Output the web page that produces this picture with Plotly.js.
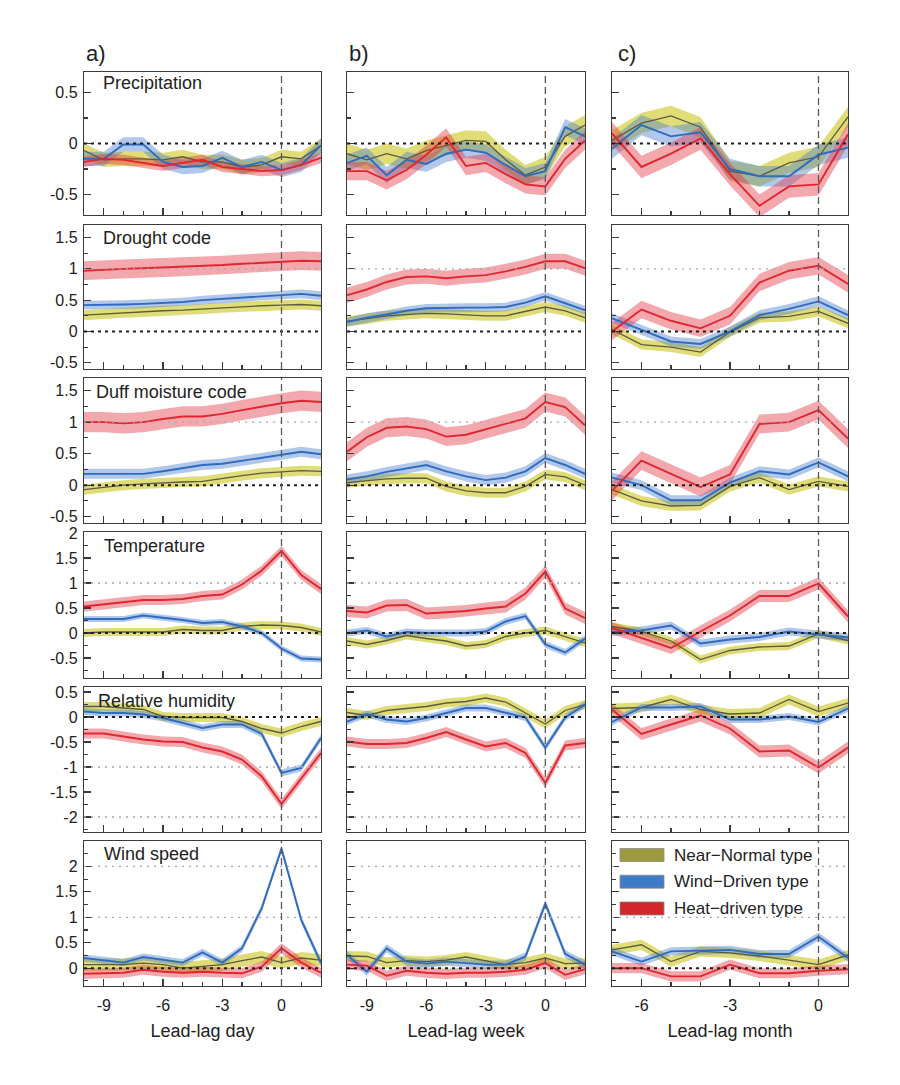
<!DOCTYPE html>
<html><head><meta charset="utf-8">
<script src="https://cdn.plot.ly/plotly-3.0.1.min.js"></script>
<style>html,body{margin:0;padding:0;background:#ffffff;}#chart{width:900px;height:1085px;}</style>
</head><body><div id="chart"></div>
<script>
// ---------- x values ----------
const dayX   = [-10,-9,-8,-7,-6,-5,-4,-3,-2,-1,0,1,2];
const weekX  = [-10,-9,-8,-7,-6,-5,-4,-3,-2,-1,0,1,2];
const monthX = [-7,-6,-5,-4,-3,-2,-1,0,1];

// ---------- Precipitation ----------
const precip_day_near  = [-0.07,-0.16,-0.15,-0.15,-0.16,-0.13,-0.18,-0.18,-0.23,-0.21,-0.13,-0.15,-0.02];
const precip_day_wind  = [-0.15,-0.15,-0.01,-0.01,-0.18,-0.23,-0.22,-0.14,-0.23,-0.18,-0.26,-0.21,-0.02];
const precip_day_heat  = [-0.18,-0.15,-0.16,-0.19,-0.22,-0.19,-0.16,-0.23,-0.25,-0.27,-0.26,-0.21,-0.14];
const precip_day_band  = [0.07,0.07,0.05];
const precip_week_near = [-0.1,-0.16,-0.1,-0.15,-0.07,-0.02,0.03,0.02,-0.16,-0.31,-0.23,0.07,0.18];
const precip_week_wind = [-0.19,-0.12,-0.31,-0.16,-0.2,-0.1,-0.06,-0.09,-0.21,-0.32,-0.27,0.16,0.07];
const precip_week_heat = [-0.27,-0.27,-0.36,-0.26,-0.11,0.06,-0.22,-0.19,-0.3,-0.4,-0.42,-0.15,0.03];
const precip_week_band = [0.1,0.08,0.09];
const precip_month_near = [0.03,0.2,0.27,0.16,-0.27,-0.32,-0.19,-0.13,0.26];
const precip_month_wind = [-0.05,0.18,0.07,0.11,-0.25,-0.32,-0.32,-0.11,-0.04];
const precip_month_heat = [0.1,-0.23,-0.1,0.05,-0.3,-0.61,-0.42,-0.4,0.09];
const precip_month_band = [0.1,0.1,0.11];

// ---------- Drought code ----------
const drought_day_near  = [0.26,0.28,0.3,0.31,0.33,0.34,0.36,0.38,0.39,0.41,0.42,0.43,0.41];
const drought_day_wind  = [0.42,0.42,0.43,0.44,0.45,0.47,0.5,0.52,0.54,0.57,0.59,0.6,0.57];
const drought_day_heat  = [0.97,0.99,1.0,1.01,1.02,1.03,1.05,1.06,1.08,1.1,1.12,1.13,1.12];
const drought_day_band  = [0.08,0.07,0.15];
const drought_week_near = [0.16,0.2,0.25,0.27,0.29,0.28,0.26,0.25,0.25,0.32,0.39,0.33,0.22];
const drought_week_wind = [0.15,0.22,0.27,0.33,0.37,0.38,0.38,0.38,0.39,0.46,0.56,0.45,0.34];
const drought_week_heat = [0.58,0.67,0.79,0.87,0.88,0.85,0.88,0.9,0.96,1.03,1.12,1.12,1.01];
const drought_week_band = [0.08,0.07,0.12];
const drought_month_near = [0.03,-0.21,-0.25,-0.33,-0.01,0.22,0.24,0.32,0.13];
const drought_month_wind = [0.21,0.03,-0.16,-0.2,0.0,0.26,0.36,0.48,0.26];
const drought_month_heat = [0.0,0.35,0.17,0.05,0.25,0.78,0.97,1.05,0.76];
const drought_month_band = [0.08,0.08,0.14];

// ---------- Duff moisture code ----------
const duff_day_near  = [-0.07,-0.03,0.0,0.02,0.04,0.05,0.06,0.11,0.15,0.19,0.21,0.23,0.22];
const duff_day_wind  = [0.18,0.18,0.18,0.18,0.22,0.27,0.32,0.34,0.39,0.43,0.48,0.53,0.49];
const duff_day_heat  = [1.0,1.0,0.98,1.0,1.05,1.09,1.09,1.13,1.19,1.25,1.3,1.34,1.32];
const duff_day_band  = [0.08,0.08,0.16];
const duff_week_near = [0.04,0.07,0.1,0.11,0.11,-0.02,-0.09,-0.12,-0.12,-0.02,0.17,0.13,0.0];
const duff_week_wind = [0.09,0.14,0.21,0.26,0.32,0.22,0.14,0.08,0.12,0.22,0.43,0.32,0.18];
const duff_week_heat = [0.53,0.76,0.91,0.93,0.89,0.77,0.8,0.89,0.98,1.06,1.32,1.24,0.95];
const duff_week_band = [0.08,0.08,0.15];
const duff_month_near = [-0.07,-0.25,-0.33,-0.32,-0.02,0.12,-0.07,0.06,-0.02];
const duff_month_wind = [0.12,0.0,-0.24,-0.24,0.04,0.22,0.17,0.36,0.14];
const duff_month_heat = [-0.09,0.39,0.18,-0.03,0.17,0.97,1.0,1.19,0.74];
const duff_month_band = [0.08,0.08,0.15];

// ---------- Temperature ----------
const temp_day_near  = [0.0,0.02,0.02,0.02,0.02,0.07,0.05,0.05,0.13,0.16,0.15,0.11,0.02];
const temp_day_wind  = [0.28,0.28,0.28,0.35,0.31,0.26,0.2,0.22,0.13,0.0,-0.31,-0.51,-0.53];
const temp_day_heat  = [0.53,0.57,0.61,0.66,0.66,0.68,0.74,0.77,0.97,1.25,1.64,1.16,0.88];
const temp_day_band  = [0.08,0.06,0.1];
const temp_week_near = [-0.16,-0.23,-0.15,-0.05,-0.11,-0.16,-0.26,-0.22,-0.07,0.0,0.05,-0.07,-0.2];
const temp_week_wind = [0.0,0.05,-0.07,0.02,0.0,0.0,0.0,0.03,0.23,0.34,-0.23,-0.39,-0.11];
const temp_week_heat = [0.44,0.41,0.55,0.56,0.39,0.41,0.44,0.49,0.53,0.79,1.23,0.49,0.3];
const temp_week_band = [0.08,0.07,0.12];
const temp_month_near = [0.13,0.03,-0.16,-0.53,-0.35,-0.28,-0.26,-0.02,-0.15];
const temp_month_wind = [0.02,0.05,0.15,-0.21,-0.13,-0.08,0.03,-0.03,-0.09];
const temp_month_heat = [0.1,-0.1,-0.3,0.03,0.35,0.74,0.74,0.99,0.33];
const temp_month_band = [0.08,0.08,0.12];

// ---------- Relative humidity ----------
const rh_day_near  = [0.21,0.21,0.18,0.15,0.01,-0.01,-0.01,-0.01,-0.09,-0.23,-0.32,-0.19,-0.09];
const rh_day_wind  = [0.11,0.08,0.08,0.05,-0.02,-0.12,-0.22,-0.15,-0.15,-0.34,-1.12,-1.02,-0.42];
const rh_day_heat  = [-0.33,-0.33,-0.39,-0.45,-0.49,-0.5,-0.61,-0.69,-0.85,-1.19,-1.74,-1.23,-0.72];
const rh_day_band  = [0.09,0.07,0.1];
const rh_week_near = [0.09,0.03,0.13,0.17,0.21,0.28,0.31,0.38,0.3,0.08,-0.14,0.13,0.25];
const rh_week_wind = [-0.09,0.06,-0.05,-0.09,-0.02,0.08,0.18,0.18,0.08,-0.01,-0.61,-0.01,0.25];
const rh_week_heat = [-0.49,-0.54,-0.54,-0.52,-0.42,-0.3,-0.45,-0.59,-0.52,-0.72,-1.32,-0.57,-0.52];
const rh_week_band = [0.09,0.07,0.1];
const rh_month_near = [0.17,0.19,0.35,0.15,0.06,0.08,0.35,0.11,0.28];
const rh_month_wind = [-0.1,0.19,0.19,0.21,-0.05,-0.05,0.01,-0.1,0.17];
const rh_month_heat = [0.15,-0.34,-0.15,0.03,-0.23,-0.69,-0.67,-1.01,-0.61];
const rh_month_band = [0.1,0.07,0.12];

// ---------- Wind speed ----------
const wind_day_near  = [0.07,0.07,0.07,0.1,0.07,0.0,0.03,0.07,0.15,0.22,0.11,0.2,0.16];
const wind_day_wind  = [0.2,0.15,0.11,0.22,0.16,0.11,0.31,0.11,0.39,1.18,2.35,0.95,0.1];
const wind_day_heat  = [-0.11,-0.1,-0.09,-0.03,-0.07,-0.09,-0.07,-0.09,-0.1,0.03,0.39,0.11,-0.09];
const wind_day_band  = [0.12,0.07,0.1];
const wind_week_near = [0.24,0.23,0.11,0.15,0.13,0.16,0.22,0.15,0.07,0.11,0.2,0.09,0.1];
const wind_week_wind = [0.26,-0.07,0.39,0.13,0.09,0.13,0.1,0.07,0.07,0.23,1.27,0.28,0.07];
const wind_week_heat = [0.07,0.05,-0.15,-0.05,-0.09,-0.11,-0.09,-0.09,-0.07,-0.03,0.1,-0.13,-0.02];
const wind_week_band = [0.1,0.08,0.1];
const wind_month_near = [0.36,0.46,0.13,0.33,0.3,0.24,0.16,0.07,0.26];
const wind_month_wind = [0.33,0.13,0.33,0.35,0.36,0.28,0.28,0.62,0.2];
const wind_month_heat = [0.0,0.0,-0.16,-0.16,0.07,-0.1,-0.1,-0.05,-0.02];
const wind_month_band = [0.1,0.08,0.1];

// ---------- labels ----------
const seriesNames = ['Near\u2212Normal type','Wind\u2212Driven type','Heat\u2212driven type'];
const rowNames = ['Precipitation','Drought code','Duff moisture code','Temperature','Relative humidity','Wind speed'];
const panelLetters = ['a)','b)','c)'];
const xTitles = ['Lead-lag day','Lead-lag week','Lead-lag month'];
const xTickDayWeek = [-9,-6,-3,0];
const xTickMonth = [-6,-3,0];
const yTicksPrecip = [-0.5,0,0.5];
const yTicksCode = [-0.5,0,0.5,1,1.5];
const yTicksTemp = [-0.5,0,0.5,1,1.5,2];
const yTicksRH = [-2,-1.5,-1,-0.5,0,0.5];
const yTicksWind = [0,0.5,1,1.5,2];

// ---------- styling ----------
const W = 900, H = 1085;
const FONT = 'Liberation Sans, Arial, Helvetica, sans-serif';
const lineColors = ['#5b5b3e','#2f6bbf','#e1262f'];
const bandColors = ['rgba(204,198,30,0.6)','rgba(70,125,205,0.42)','rgba(226,48,62,0.42)'];
const swatchColors = ['#9c9a3c','#3e7bc8','#d3262b'];
const lineWidths = [1.3,1.9,1.9];
const colPx = [[84,321],[347,585],[612,848]];
const rowPx = [[72,215],[225,369],[378,523],[532,678],[687,832],[841,986]];

const rows = [
  {range:[-0.7,0.7], ticks:yTicksPrecip, grid:[], data:[
    [precip_day_near,precip_day_wind,precip_day_heat,precip_day_band],
    [precip_week_near,precip_week_wind,precip_week_heat,precip_week_band],
    [precip_month_near,precip_month_wind,precip_month_heat,precip_month_band]]},
  {range:[-0.6,1.7], ticks:yTicksCode, grid:[1], data:[
    [drought_day_near,drought_day_wind,drought_day_heat,drought_day_band],
    [drought_week_near,drought_week_wind,drought_week_heat,drought_week_band],
    [drought_month_near,drought_month_wind,drought_month_heat,drought_month_band]]},
  {range:[-0.6,1.7], ticks:yTicksCode, grid:[1], data:[
    [duff_day_near,duff_day_wind,duff_day_heat,duff_day_band],
    [duff_week_near,duff_week_wind,duff_week_heat,duff_week_band],
    [duff_month_near,duff_month_wind,duff_month_heat,duff_month_band]]},
  {range:[-0.9,2.02], ticks:yTicksTemp, grid:[1], data:[
    [temp_day_near,temp_day_wind,temp_day_heat,temp_day_band],
    [temp_week_near,temp_week_wind,temp_week_heat,temp_week_band],
    [temp_month_near,temp_month_wind,temp_month_heat,temp_month_band]]},
  {range:[-2.3,0.6], ticks:yTicksRH, grid:[-1,-2], data:[
    [rh_day_near,rh_day_wind,rh_day_heat,rh_day_band],
    [rh_week_near,rh_week_wind,rh_week_heat,rh_week_band],
    [rh_month_near,rh_month_wind,rh_month_heat,rh_month_band]]},
  {range:[-0.35,2.5], ticks:yTicksWind, grid:[1,2], data:[
    [wind_day_near,wind_day_wind,wind_day_heat,wind_day_band],
    [wind_week_near,wind_week_wind,wind_week_heat,wind_week_band],
    [wind_month_near,wind_month_wind,wind_month_heat,wind_month_band]]}
];

const traces = [];
const shapes = [];
const annotations = [];
const layout = {
  width: W, height: H,
  margin: {l:0, r:0, t:0, b:0},
  paper_bgcolor: 'rgba(0,0,0,0)',
  plot_bgcolor: 'rgba(0,0,0,0)',
  showlegend: false,
  font: {family: FONT, color: '#222'},
  shapes: shapes,
  annotations: annotations
};

const axisColor = '#3a3a3a';
rows.forEach((row, r) => {
  [0,1,2].forEach(c => {
    const k = r*3 + c + 1;
    const xid = k === 1 ? 'x' : 'x' + k;
    const yid = k === 1 ? 'y' : 'y' + k;
    const xs = c === 0 ? dayX : (c === 1 ? weekX : monthX);
    const xr = c === 2 ? [-7, 1] : [-10, 2];
    const xt = c === 2 ? xTickMonth : xTickDayWeek;
    const d = row.data[c];
    const band = d[3];
    for (let s = 0; s < 3; s++) {
      const up = d[s].map(v => v + band[s]);
      const lo = d[s].map(v => v - band[s]);
      traces.push({
        type:'scatter', mode:'lines', xaxis:xid, yaxis:yid,
        x: xs.concat(xs.slice().reverse()),
        y: up.concat(lo.slice().reverse()),
        fill:'toself', fillcolor: bandColors[s], line:{width:0},
        hoverinfo:'skip', name: seriesNames[s] + ' range', showlegend:false
      });
    }
    for (let s = 0; s < 3; s++) {
      traces.push({
        type:'scatter', mode:'lines', xaxis:xid, yaxis:yid,
        x: xs, y: d[s], name: seriesNames[s],
        line:{color: lineColors[s], width: lineWidths[s]},
        showlegend:false
      });
    }
    const cx = colPx[c], ry = rowPx[r];
    layout['xaxis' + (k === 1 ? '' : k)] = {
      domain:[cx[0]/W, cx[1]/W], range: xr, anchor: yid,
      showline:true, mirror:true, linecolor:axisColor, linewidth:1.2,
      showgrid:false, zeroline:false, fixedrange:true,
      ticks:'inside', ticklen:7, tickwidth:1.2, tickcolor:axisColor,
      tickmode:'array', tickvals: xt, ticktext: xt.map(v => String(v)),
      showticklabels: r === 5, ticklabelstandoff: 5,
      tickfont:{size:16, color:'#222', family:FONT},
      minor:{ticks:'inside', ticklen:4, tickwidth:1.1, tickcolor:axisColor, tickmode:'linear', tick0:0, dtick:1, showgrid:false},
      title: r === 5 ? {text: xTitles[c], font:{size:18, color:'#222', family:FONT}, standoff: 11} : {text:''}
    };
    layout['yaxis' + (k === 1 ? '' : k)] = {
      domain:[1 - ry[1]/H, 1 - ry[0]/H], range: row.range, anchor: xid,
      showline:true, mirror:true, linecolor:axisColor, linewidth:1.2,
      showgrid:false, zeroline:false, fixedrange:true,
      ticks:'inside', ticklen:7, tickwidth:1.2, tickcolor:axisColor,
      tickmode:'array', tickvals: row.ticks, ticktext: row.ticks.map(v => String(v)),
      showticklabels: c === 0, ticklabelstandoff: 2,
      tickfont:{size:16, color:'#222', family:FONT},
      minor:{ticks:'inside', ticklen:4, tickwidth:1.1, tickcolor:axisColor, tickmode:'linear', tick0:0, dtick:0.25, showgrid:false}
    };
    row.grid.forEach(g => {
      shapes.push({type:'line', layer:'above', xref: xid + ' domain', yref: yid, x0:0, x1:1, y0:g, y1:g,
        line:{color:'#a8a8a8', width:1.3, dash:'2px,5px'}});
    });
  });
});

// legend box in the empty wind-speed / month panel
shapes.push({type:'rect', layer:'above', xref:'paper', yref:'paper',
  x0:619/W, x1:815/W, y0:1-915/H, y1:1-842/H, fillcolor:'#ffffff', line:{width:0}});

rows.forEach((row, r) => {
  [0,1,2].forEach(c => {
    const k = r*3 + c + 1;
    const xid = k === 1 ? 'x' : 'x' + k;
    const yid = k === 1 ? 'y' : 'y' + k;
    shapes.push({type:'line', layer:'above', xref: xid + ' domain', yref: yid, x0:0, x1:1, y0:0, y1:0,
      line:{color:'#1e1e1e', width:2, dash:'3px,4px'}});
    shapes.push({type:'line', layer:'above', xref: xid, yref: yid + ' domain', x0:0, x1:0, y0:0, y1:1,
      line:{color:'#5a5a5a', width:1.3, dash:'7px,4px'}});
  });
});

const legendY = [855, 881.7, 908.5];
seriesNames.forEach((nm, s) => {
  shapes.push({type:'rect', layer:'above', xref:'paper', yref:'paper',
    x0:620/W, x1:664/W, y0:1-(legendY[s]+6.5)/H, y1:1-(legendY[s]-6.5)/H,
    fillcolor: swatchColors[s], line:{color:'#8a8a8a', width:0.8}});
  annotations.push({xref:'paper', yref:'paper', x:672/W, y:1-legendY[s]/H, xanchor:'left', yanchor:'middle',
    text: nm, showarrow:false, font:{size:17, color:'#222', family:FONT}});
});

const letterX = [84, 347, 616];
panelLetters.forEach((t, c) => {
  annotations.push({xref:'paper', yref:'paper', x:letterX[c]/W, y:1-54/H, xanchor:'left', yanchor:'middle',
    text:t, showarrow:false, font:{size:22, color:'#222', family:FONT}});
});

const nameX = [101, 101, 94, 102, 96, 102];
const nameY = [83, 237.5, 391.5, 545.5, 700.5, 854];
rowNames.forEach((t, r) => {
  annotations.push({xref:'paper', yref:'paper', x:nameX[r]/W, y:1-nameY[r]/H, xanchor:'left', yanchor:'middle',
    text:t, showarrow:false, font:{size:18, color:'#222', family:FONT}});
});

Plotly.newPlot('chart', traces, layout, {staticPlot:true, displayModeBar:false});
</script>
</body></html>
